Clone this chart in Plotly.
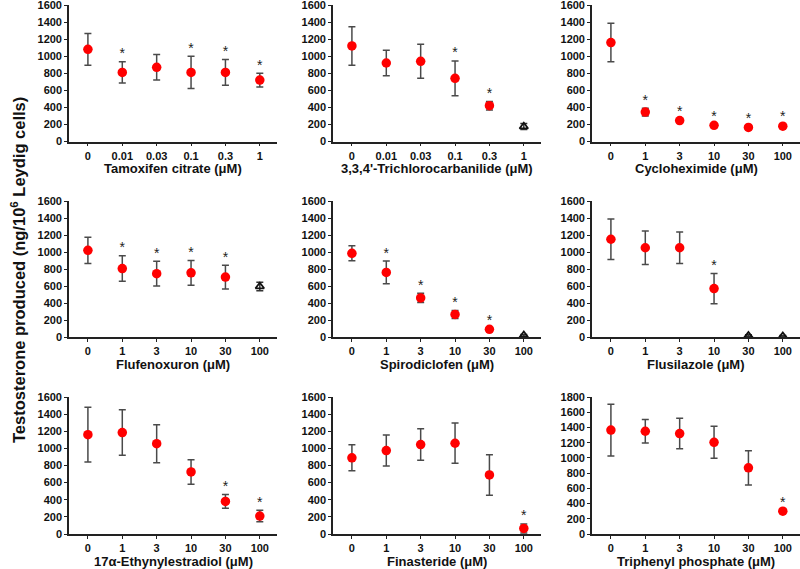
import plotly.graph_objects as go

# ---------------- data ----------------
doses_a = ["0", "0.01", "0.03", "0.1", "0.3", "1"]
doses_b = ["0", "1", "3", "10", "30", "100"]

titles = [
    "Tamoxifen citrate (μM)", "3,3,4'-Trichlorocarbanilide (μM)", "Cycloheximide (μM)",
    "Flufenoxuron (μM)", "Spirodiclofen (μM)", "Flusilazole (μM)",
    "17α-Ethynylestradiol (μM)", "Finasteride (μM)", "Triphenyl phosphate (μM)",
]

tam_mean = [1080, 810, 870, 810, 810, 720]
tam_err = [185, 125, 150, 190, 150, 80]
tam_sig = [0, 1, 0, 1, 1, 1]
tam_cyto = [0, 0, 0, 0, 0, 0]

tcc_mean = [1120, 920, 940, 740, 420, 175]
tcc_err = [225, 150, 200, 205, 50, 35]
tcc_sig = [0, 0, 0, 1, 1, 0]
tcc_cyto = [0, 0, 0, 0, 0, 1]

chx_mean = [1160, 345, 245, 190, 165, 180]
chx_err = [225, 45, 15, 15, 12, 15]
chx_sig = [0, 1, 1, 1, 1, 1]
chx_cyto = [0, 0, 0, 0, 0, 0]

flu_mean = [1020, 805, 745, 755, 705, 595]
flu_err = [155, 150, 145, 145, 140, 50]
flu_sig = [0, 1, 1, 1, 1, 0]
flu_cyto = [0, 0, 0, 0, 0, 1]

spi_mean = [985, 760, 460, 265, 90, 20]
spi_err = [88, 133, 55, 48, 12, 10]
spi_sig = [0, 1, 1, 1, 1, 0]
spi_cyto = [0, 0, 0, 0, 0, 1]

fls_mean = [1150, 1050, 1050, 570, 15, 10]
fls_err = [237, 197, 185, 178, 10, 8]
fls_sig = [0, 0, 0, 1, 0, 0]
fls_cyto = [0, 0, 0, 0, 1, 1]

ee2_mean = [1160, 1185, 1055, 725, 380, 210]
ee2_err = [320, 265, 222, 143, 80, 68]
ee2_sig = [0, 0, 0, 0, 1, 1]
ee2_cyto = [0, 0, 0, 0, 0, 0]

fin_mean = [890, 975, 1045, 1060, 690, 65]
fin_err = [152, 182, 185, 235, 237, 53]
fin_sig = [0, 0, 0, 0, 0, 1]
fin_cyto = [0, 0, 0, 0, 0, 0]

tpp_mean = [1365, 1350, 1320, 1205, 870, 300]
tpp_err = [340, 155, 200, 210, 225, 15]
tpp_sig = [0, 0, 0, 0, 0, 1]
tpp_cyto = [0, 0, 0, 0, 0, 0]

y_max = [1600, 1600, 1600, 1600, 1600, 1600, 1600, 1600, 1800]
y_title = "Testosterone produced (ng/10<sup>6</sup> Leydig cells)"

panels = [
    (doses_a, tam_mean, tam_err, tam_sig, tam_cyto),
    (doses_a, tcc_mean, tcc_err, tcc_sig, tcc_cyto),
    (doses_b, chx_mean, chx_err, chx_sig, chx_cyto),
    (doses_b, flu_mean, flu_err, flu_sig, flu_cyto),
    (doses_b, spi_mean, spi_err, spi_sig, spi_cyto),
    (doses_b, fls_mean, fls_err, fls_sig, fls_cyto),
    (doses_b, ee2_mean, ee2_err, ee2_sig, ee2_cyto),
    (doses_b, fin_mean, fin_err, fin_sig, fin_cyto),
    (doses_b, tpp_mean, tpp_err, tpp_sig, tpp_cyto),
]

# ---------------- layout geometry ----------------
W, H = 800, 569
col_px = [(69, 277), (333, 541), (592, 800)]
row_px = [(5, 141.5), (201, 337), (397, 534)]  # (top, bottom) pixel

FONT = "Arial, 'Liberation Sans', Helvetica, sans-serif"
AX = "#222222"
ERR = "#4a4a4a"

fig = go.Figure()
layout = dict(
    width=W, height=H, margin=dict(l=0, r=0, t=0, b=0),
    paper_bgcolor="white", plot_bgcolor="white", showlegend=False,
    font=dict(family=FONT, color="#111111"),
)
annotations = []

for i, (doses, mean, err, sig, cyto) in enumerate(panels):
    r, c = divmod(i, 3)
    xs = "x" if i == 0 else f"x{i+1}"
    ys = "y" if i == 0 else f"y{i+1}"
    xd = [col_px[c][0] / W, col_px[c][1] / W]
    yd = [1 - row_px[r][1] / H, 1 - row_px[r][0] / H]

    nx = [d for d, k in zip(doses, cyto) if not k]
    ny = [m for m, k in zip(mean, cyto) if not k]
    ne = [e for e, k in zip(err, cyto) if not k]
    fig.add_trace(go.Scatter(
        x=nx, y=ny, xaxis=xs, yaxis=ys, mode="markers",
        marker=dict(color="#ff0000", size=9.5, line=dict(width=0)),
        error_y=dict(type="data", array=ne, visible=True, color=ERR, thickness=1.5, width=3.5),
        cliponaxis=False,
    ))
    tx = [d for d, k in zip(doses, cyto) if k]
    if tx:
        ty = [m for m, k in zip(mean, cyto) if k]
        te = [e for e, k in zip(err, cyto) if k]
        fig.add_trace(go.Scatter(
            x=tx, y=ty, xaxis=xs, yaxis=ys, mode="markers",
            marker=dict(symbol="triangle-up-open", color="#111111", size=7.5, line=dict(width=1.8)),
            error_y=dict(type="data", array=te, visible=True, color="#333333", thickness=1.5, width=3.5),
            cliponaxis=False,
        ))
    sx = [d for d, s in zip(doses, sig) if s]
    sy = [m + e for m, e, s in zip(mean, err, sig) if s]
    if sx:
        fig.add_trace(go.Scatter(
            x=sx, y=sy, xaxis=xs, yaxis=ys, mode="text", text=["*"] * len(sx),
            textposition="top center",
            textfont=dict(size=14, color="#222222", family=FONT),
            cliponaxis=False,
        ))

    xa = "xaxis" if i == 0 else f"xaxis{i+1}"
    ya = "yaxis" if i == 0 else f"yaxis{i+1}"
    layout[xa] = dict(
        domain=xd, anchor=ys, type="category", categoryorder="array", categoryarray=doses,
        range=[-0.55, 5.5], showline=True, linecolor=AX, linewidth=1.6,
        ticks="outside", ticklen=3, tickwidth=1.4, tickcolor=AX, showgrid=False, zeroline=False,
        tickfont=dict(size=11, weight="bold", family=FONT, color="#111111"),
        automargin=False, fixedrange=True, ticklabeloverflow="allow",
    )
    layout[ya] = dict(
        domain=yd, anchor=xs, range=[0, y_max[i]], dtick=200, tick0=0,
        showline=True, linecolor=AX, linewidth=1.6,
        ticks="outside", ticklen=3, tickwidth=1.4, tickcolor=AX, showgrid=False, zeroline=False,
        tickfont=dict(size=11, weight="bold", family=FONT, color="#111111"),
        automargin=False, fixedrange=True, ticklabeloverflow="allow",
    )
    annotations.append(dict(
        text=titles[i], xref="paper", yref="paper",
        x=(xd[0] + xd[1]) / 2, y=1 - (row_px[r][1] + 27.5) / H,
        xanchor="center", yanchor="middle", showarrow=False,
        font=dict(size=13, weight="bold", family=FONT, color="#111111"),
    ))

annotations.append(dict(
    text=y_title, xref="paper", yref="paper", x=18 / W, y=1 - 270 / H,
    xanchor="center", yanchor="middle", textangle=-90, showarrow=False,
    font=dict(size=16.5, weight="bold", family=FONT, color="#111111"),
))
layout["annotations"] = annotations
fig.update_layout(**layout)
fig.write_html(
    "out.html",
    config={"displayModeBar": False},
    post_script="document.body.style.margin='0';document.body.style.overflow='hidden';",
)
